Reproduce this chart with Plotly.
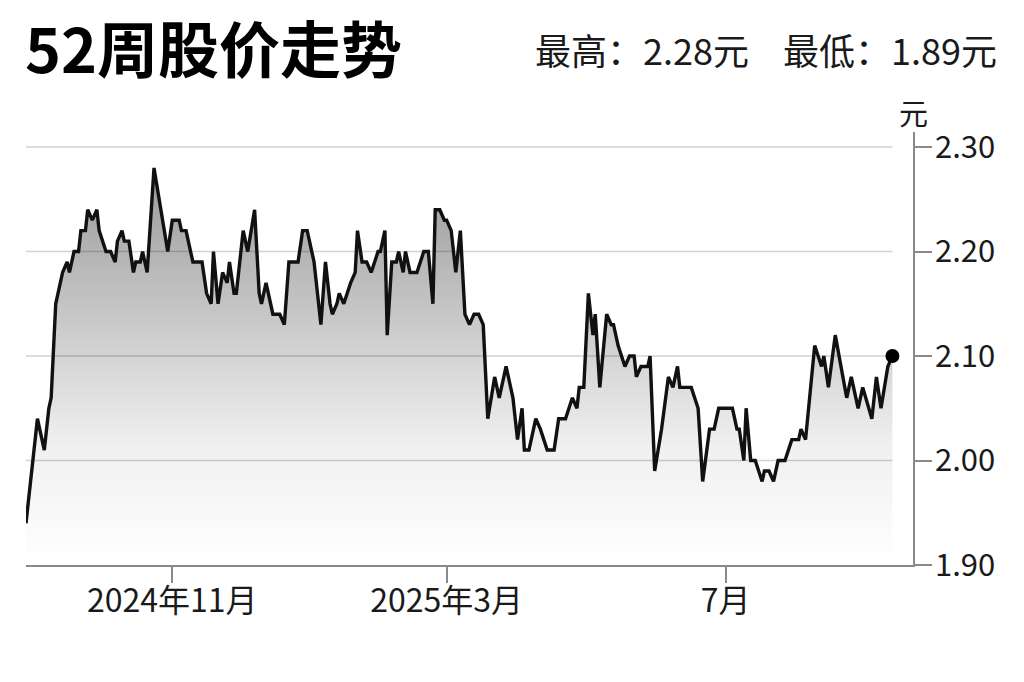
import plotly.graph_objects as go

# ---- data ----
dates = [
    "2024-08-29", "2024-09-03", "2024-09-06", "2024-09-08", "2024-09-09", "2024-09-11", "2024-09-12",
    "2024-09-14", "2024-09-16", "2024-09-17", "2024-09-19", "2024-09-21", "2024-09-22", "2024-09-24",
    "2024-09-25", "2024-09-27", "2024-09-29", "2024-09-30",
    "2024-10-03", "2024-10-05", "2024-10-07", "2024-10-08", "2024-10-10", "2024-10-11", "2024-10-13",
    "2024-10-15", "2024-10-16", "2024-10-18", "2024-10-19", "2024-10-21", "2024-10-24", "2024-10-27",
    "2024-10-28", "2024-10-30",
    "2024-11-01", "2024-11-04", "2024-11-05", "2024-11-07", "2024-11-10", "2024-11-12", "2024-11-14",
    "2024-11-16", "2024-11-18", "2024-11-19", "2024-11-21", "2024-11-23", "2024-11-25", "2024-11-26",
    "2024-11-28", "2024-11-29",
    "2024-12-02", "2024-12-04", "2024-12-07", "2024-12-09", "2024-12-10", "2024-12-12", "2024-12-13",
    "2024-12-15", "2024-12-18", "2024-12-20", "2024-12-22", "2024-12-23", "2024-12-26", "2024-12-28",
    "2024-12-30",
    "2025-01-02", "2025-01-05", "2025-01-07", "2025-01-09", "2025-01-10", "2025-01-12", "2025-01-13",
    "2025-01-15", "2025-01-18", "2025-01-20", "2025-01-21", "2025-01-23", "2025-01-25", "2025-01-27",
    "2025-01-30", "2025-01-31",
    "2025-02-02", "2025-02-03", "2025-02-05", "2025-02-07", "2025-02-08", "2025-02-10", "2025-02-11",
    "2025-02-13", "2025-02-16", "2025-02-19", "2025-02-21", "2025-02-23", "2025-02-24", "2025-02-26",
    "2025-02-28",
    "2025-03-01", "2025-03-03", "2025-03-05", "2025-03-07", "2025-03-09", "2025-03-11", "2025-03-13",
    "2025-03-15", "2025-03-17", "2025-03-19", "2025-03-22", "2025-03-24", "2025-03-27", "2025-03-29",
    "2025-03-30",
    "2025-04-01", "2025-04-03", "2025-04-04", "2025-04-06", "2025-04-09", "2025-04-11", "2025-04-14",
    "2025-04-17", "2025-04-19", "2025-04-22", "2025-04-25", "2025-04-27", "2025-04-28", "2025-04-30",
    "2025-05-02", "2025-05-04", "2025-05-05", "2025-05-07", "2025-05-10", "2025-05-12", "2025-05-13",
    "2025-05-15", "2025-05-18", "2025-05-20", "2025-05-22", "2025-05-23", "2025-05-25", "2025-05-28",
    "2025-05-29", "2025-05-31",
    "2025-06-03", "2025-06-06", "2025-06-08", "2025-06-10", "2025-06-11", "2025-06-16", "2025-06-19",
    "2025-06-21", "2025-06-24", "2025-06-26", "2025-06-28",
    "2025-07-04", "2025-07-06", "2025-07-07", "2025-07-09", "2025-07-10", "2025-07-12", "2025-07-14",
    "2025-07-17", "2025-07-18", "2025-07-20", "2025-07-22", "2025-07-24", "2025-07-27", "2025-07-30",
    "2025-08-02", "2025-08-03", "2025-08-05", "2025-08-09", "2025-08-12", "2025-08-13", "2025-08-15",
    "2025-08-18", "2025-08-23", "2025-08-25", "2025-08-28", "2025-08-30",
    "2025-09-03", "2025-09-05", "2025-09-07", "2025-09-10", "2025-09-12",
]

prices = [
    1.94, 2.04, 2.01, 2.05, 2.06, 2.15, 2.16, 2.18, 2.19, 2.18, 2.20, 2.20, 2.22, 2.22, 2.24, 2.23, 2.24, 2.22,
    2.20, 2.20, 2.19, 2.21, 2.22, 2.21, 2.21, 2.18, 2.19, 2.19, 2.20, 2.18, 2.28, 2.24, 2.23, 2.20,
    2.23, 2.23, 2.22, 2.22, 2.19, 2.19, 2.19, 2.16, 2.15, 2.20, 2.15, 2.18, 2.17, 2.19, 2.16, 2.16,
    2.22, 2.20, 2.24, 2.16, 2.15, 2.17, 2.16, 2.14, 2.14, 2.13, 2.19, 2.19, 2.19, 2.22, 2.22,
    2.19, 2.13, 2.19, 2.15, 2.14, 2.15, 2.16, 2.15, 2.17, 2.18, 2.22, 2.19, 2.19, 2.18, 2.20, 2.20,
    2.22, 2.12, 2.19, 2.19, 2.20, 2.18, 2.20, 2.18, 2.18, 2.20, 2.20, 2.15, 2.24, 2.24, 2.23,
    2.23, 2.22, 2.18, 2.22, 2.14, 2.13, 2.14, 2.14, 2.13, 2.04, 2.08, 2.06, 2.09, 2.07, 2.06,
    2.02, 2.05, 2.01, 2.01, 2.04, 2.03, 2.01, 2.01, 2.04, 2.04, 2.06, 2.05, 2.07, 2.07,
    2.16, 2.12, 2.14, 2.07, 2.14, 2.13, 2.13, 2.11, 2.09, 2.10, 2.10, 2.08, 2.09, 2.09, 2.10, 1.99,
    2.03, 2.08, 2.07, 2.09, 2.07, 2.07, 2.05, 1.98, 2.03, 2.03, 2.05,
    2.05, 2.03, 2.03, 2.00, 2.05, 2.00, 2.00, 1.98, 1.99, 1.99, 1.98, 2.00, 2.00, 2.02,
    2.02, 2.03, 2.02, 2.11, 2.09, 2.10, 2.07, 2.12, 2.06, 2.08, 2.05, 2.07,
    2.04, 2.08, 2.05, 2.09, 2.10,
]
assert len(dates) == len(prices)

x_tick_vals = ["2024-11-01", "2025-03-01", "2025-07-01"]
x_tick_text = ["2024年11月", "2025年3月", "7月"]
y_tick_vals = [1.90, 2.00, 2.10, 2.20, 2.30]
y_tick_text = ["1.90", "2.00", "2.10", "2.20", "2.30"]

title_text = "52周股价走势"
high_text = "最高：2.28元"
low_text = "最低：1.89元"
unit_text = "元"

FONT = "Noto Sans CJK SC"
TXT = "#1a1a1a"
AXIS = "#8a8a8a"
GRID = "#d2d2d2"

# the page body adds an 8px offset; the figure is laid out to compensate
OFF = 8
W, H = 1024 - OFF, 682 - OFF
PL, PR, PT, PB = 26 - OFF, 913 - OFF, 132 - OFF, 565 - OFF   # plot-area edges in figure px
PW, PH = PR - PL, PB - PT


def px_x(px):
    return (px - OFF - PL) / PW


def px_y(py):
    return (PB - (py - OFF)) / PH


fig = go.Figure()

fig.add_trace(go.Scatter(
    x=dates, y=prices, mode="lines",
    line=dict(color="#111111", width=3.4, shape="linear"),
    fill="tozeroy",
    fillgradient=dict(
        type="vertical", start=1.90, stop=2.28,
        colorscale=[[0, "rgba(0,0,0,0.0)"], [0.3, "rgba(0,0,0,0.06)"], [1, "rgba(0,0,0,0.40)"]],
    ),
    hoverinfo="skip", showlegend=False,
))

fig.add_trace(go.Scatter(
    x=[dates[-1]], y=[prices[-1]], mode="markers",
    marker=dict(color="#000000", size=14),
    hoverinfo="skip", showlegend=False,
))

# gridlines spanning only the data period
for v in y_tick_vals[1:]:
    fig.add_shape(type="line", xref="x", yref="y", x0=dates[0], x1=dates[-1], y0=v, y1=v,
                  line=dict(color=GRID, width=1.5), layer="below")

fig.update_layout(
    width=W, height=H, autosize=False,
    paper_bgcolor="white", plot_bgcolor="white",
    margin=dict(l=PL, r=W - PR, t=PT, b=H - PB, pad=0),
    font=dict(family=FONT, color=TXT, size=31),
    title=dict(
        text=title_text, x=(25 - OFF) / W, xanchor="left", xref="container",
        y=1 - (52 - OFF) / H, yanchor="middle", yref="container",
        font=dict(family=FONT, size=61, color="#000000", weight="bold"),
    ),
    xaxis=dict(
        type="date", range=["2024-08-29", "2025-09-21"],
        tickmode="array", tickvals=x_tick_vals, ticktext=x_tick_text,
        showgrid=False, zeroline=False,
        showline=True, linecolor=AXIS, linewidth=1.5,
        ticks="outside", ticklen=16, tickcolor=AXIS, tickwidth=1.5,
        ticklabelstandoff=-9,
        tickfont=dict(family=FONT, size=32, color=TXT),
        fixedrange=True, automargin=False,
    ),
    yaxis=dict(
        side="right", range=[1.90, 2.3144],
        tickmode="array", tickvals=y_tick_vals, ticktext=y_tick_text,
        showgrid=False, zeroline=False,
        showline=True, linecolor=AXIS, linewidth=1.5,
        ticks="outside", ticklen=17, tickcolor=AXIS, tickwidth=1.5,
        ticklabelstandoff=-3,
        tickfont=dict(family=FONT, size=31, color=TXT),
        fixedrange=True, automargin=False,
    ),
    annotations=[
        dict(text=high_text, xref="paper", yref="paper", x=px_x(751), y=px_y(49),
             xanchor="right", yanchor="middle", showarrow=False,
             font=dict(family=FONT, size=36, color=TXT)),
        dict(text=low_text, xref="paper", yref="paper", x=px_x(999), y=px_y(49),
             xanchor="right", yanchor="middle", showarrow=False,
             font=dict(family=FONT, size=36, color=TXT)),
        dict(text=unit_text, xref="paper", yref="paper", x=1, y=px_y(112),
             xanchor="center", yanchor="middle", showarrow=False,
             font=dict(family=FONT, size=29, color=TXT)),
    ],
)

fig.write_html("out.html")
